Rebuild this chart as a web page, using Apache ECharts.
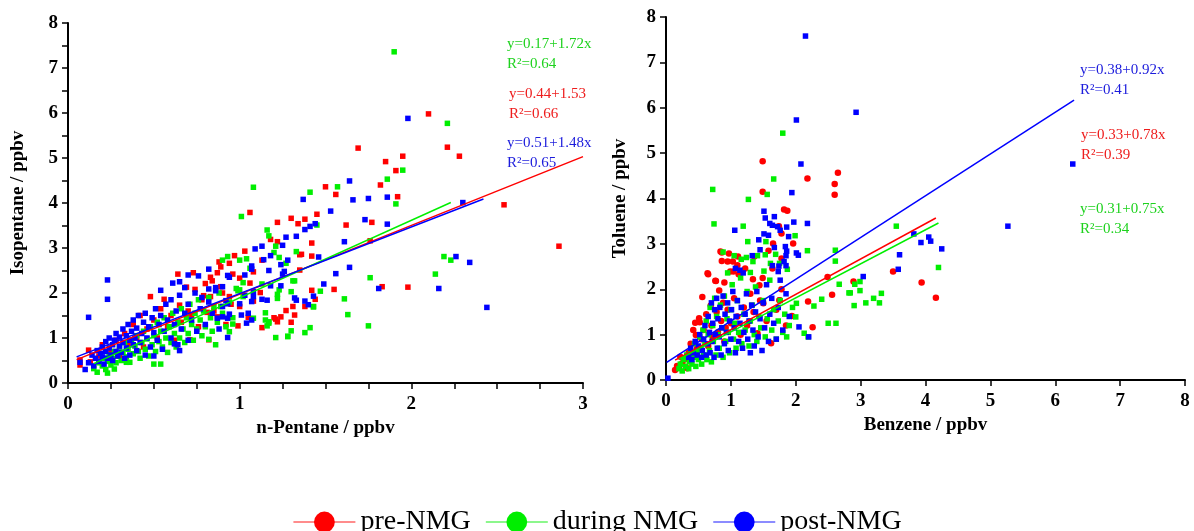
<!DOCTYPE html>
<html>
<head>
<meta charset="utf-8">
<script src="https://cdn.jsdelivr.net/npm/echarts@6/dist/echarts.min.js"></script>
<style>html,body{margin:0;padding:0;background:#fff}#c{width:1194px;height:531px}</style>
</head>
<body>
<div id="c"></div>
<script>
// ---------- DATA ----------
var seriesNames = ['pre-NMG', 'during NMG', 'post-NMG'];
var xTicksLeft = ['0', '1', '2', '3'];
var yTicksLeft = ['0', '1', '2', '3', '4', '5', '6', '7', '8'];
var leftXName = 'n-Pentane / ppbv';
var leftYName = 'Isopentane / ppbv';
var rightXName = 'Benzene / ppbv';
var rightYName = 'Toluene / ppbv';

// regression fit segments (endpoints)
var leftFitPre = [[0.05, 0.52], [3.0, 5.03]];
var leftFitDuring = [[0.15, 0.43], [2.23, 4.01]];
var leftFitPost = [[0.05, 0.58], [2.42, 4.09]];
var rightFitPre = [[0.14, 0.44], [4.16, 3.57]];
var rightFitDuring = [[0.2, 0.46], [4.2, 3.46]];
var rightFitPost = [[0.01, 0.39], [6.29, 6.17]];

// regression equation labels
var leftEqDuring = ['y=0.17+1.72x', 'R²=0.64'];
var leftEqPre = ['y=0.44+1.53', 'R²=0.66'];
var leftEqPost = ['y=0.51+1.48x', 'R²=0.65'];
var rightEqPost = ['y=0.38+0.92x', 'R²=0.41'];
var rightEqPre = ['y=0.33+0.78x', 'R²=0.39'];
var rightEqDuring = ['y=0.31+0.75x', 'R²=0.34'];

// left panel: n-Pentane vs Isopentane
var leftPre = [[0.07,0.4],[0.07,0.51],[0.12,0.73],[0.13,0.47],[0.18,0.6],[0.2,0.85],[0.25,0.7],[0.28,0.95],[0.3,0.6],[0.33,1.1],[0.35,0.85],[0.38,1.3],[0.4,1.0],[0.42,1.5],[0.44,0.8],[0.46,1.2],[0.48,1.92],[0.5,1.4],[0.52,1.0],[0.54,1.65],[0.56,1.86],[0.58,1.25],[0.6,1.5],[0.62,0.95],[0.64,2.42],[0.65,1.73],[0.66,1.35],[0.69,2.13],[0.7,1.6],[0.72,1.51],[0.71,0.96],[0.73,2.45],[0.74,2.08],[0.76,1.25],[0.78,1.85],[0.82,0.96],[0.83,1.92],[0.85,1.6],[0.87,1.47],[0.9,2.0],[0.92,1.3],[0.95,1.75],
[2.10,5.98],[2.21,5.24],[2.28,5.04],[1.69,5.22],[1.95,5.04],[1.85,4.92],[1.91,4.72],[1.82,4.40],[1.56,4.19],[1.50,4.36],[1.92,4.14],[2.54,3.96],[2.86,3.04],[1.98,2.13],[1.83,2.14],[1.55,2.08],[1.42,2.06],[1.44,1.86],[1.38,1.70],[1.76,3.16],[1.62,3.51],[1.77,3.57],[1.45,3.75],[1.38,3.64],[1.42,3.11],[1.42,2.82],[1.36,2.86],[1.06,3.79],[1.30,3.66],[1.22,3.57],[1.34,3.54],[1.22,3.14],[1.18,3.19],[1.03,2.93],[1.35,2.85],[0.97,2.83],[0.94,2.66],[0.88,2.69],[0.89,2.58],[1.13,2.73],[1.08,2.47],[1.35,2.51],[0.87,2.45],[0.83,2.35],[0.80,2.21],[0.84,2.27],[1.00,2.33],[0.96,2.42],[0.89,2.14],[0.79,1.94],[1.06,2.22],[1.12,2.01],[1.00,1.70],[1.08,1.82],[0.81,1.57],[1.27,1.61],[1.20,1.45],[1.24,1.47],[1.32,1.51],[1.30,1.35],[1.13,1.23],[1.22,1.36],[0.99,1.27],[1.05,1.46],[1.21,1.42],[1.31,1.70],[0.94,1.92]];
var leftDuring = [[0.15,0.32],[0.17,0.24],[0.18,0.45],[0.2,0.38],[0.21,0.55],[0.22,0.3],[0.23,0.48],[0.24,0.62],[0.25,0.4],[0.26,0.55],[0.27,0.7],[0.28,0.45],[0.29,0.6],[0.3,0.8],[0.31,0.5],[0.32,0.68],[0.33,0.9],[0.34,0.58],[0.35,0.75],[0.36,0.46],[0.37,0.95],[0.38,0.65],[0.39,0.82],[0.4,1.05],[0.41,0.7],[0.42,0.55],[0.43,0.9],[0.44,1.15],[0.45,0.75],[0.46,0.98],[0.47,0.6],[0.48,1.25],[0.49,0.85],[0.5,1.05],[0.51,0.7],[0.52,1.35],[0.53,0.92],[0.54,1.15],[0.55,0.8],[0.56,1.45],[0.57,1.0],[0.58,0.68],[0.59,1.25],[0.6,0.9],[0.61,1.55],[0.62,1.1],[0.63,0.8],[0.64,1.35],[0.65,1.0],[0.66,1.65],[0.67,1.2],[0.68,0.9],[0.69,1.45],[0.7,1.1],[0.71,1.75],[0.72,1.3],[0.73,0.95],[0.74,1.55],[0.75,1.2],[0.76,1.85],[0.77,1.4],[0.78,1.05],[0.79,1.6],[0.8,1.25],[0.82,1.9],[0.83,1.45],[0.84,1.15],[0.85,1.7],[0.87,1.35],[0.88,2.0],[0.9,1.55],[0.92,1.25],[0.94,1.8],[0.96,1.45],[0.98,2.1],
[0.23,0.22],[0.27,0.31],[0.34,0.46],[0.50,0.42],[0.54,0.42],[0.86,0.85],[0.82,0.97],[1.21,1.01],[1.28,1.04],
[1.90,7.36],[2.21,5.77],[1.95,4.73],[1.86,4.53],[1.57,4.36],[1.41,4.24],[1.08,4.35],[1.91,3.98],[1.45,3.51],[2.19,2.81],[2.23,2.73],[2.14,2.42],[1.76,2.34],[1.47,2.04],[1.61,1.87],[1.43,1.69],[1.63,1.52],[1.75,1.27],[1.41,1.23],[1.38,1.12],[1.01,3.70],[1.16,3.40],[1.17,3.27],[1.21,3.04],[1.20,2.90],[1.33,2.92],[1.23,2.79],[1.04,2.76],[1.00,2.73],[0.93,2.81],[0.90,2.73],[1.06,2.55],[1.32,2.27],[1.30,2.03],[1.22,1.88],[1.22,1.97],[1.43,1.70],[1.13,2.20],[0.99,2.05],[1.02,2.23],[1.15,1.56],[1.17,1.36],[1.16,1.27],[1.30,1.16],[1.28,1.03],[1.15,1.40],[1.27,2.66],[1.31,2.27],[1.23,2.07],[1.17,1.33],[1.00,2.07],[1.02,1.92],[0.96,1.31],[1.08,1.44],[0.89,1.70],[0.94,1.14]];
var leftPost = [[0.12,0.45],[0.14,0.62],[0.15,0.38],[0.16,0.55],[0.17,0.72],[0.18,0.48],[0.19,0.66],[0.2,0.58],[0.2,0.8],[0.21,0.42],[0.22,0.7],[0.22,0.92],[0.23,0.55],[0.24,0.78],[0.24,1.0],[0.25,0.62],[0.26,0.85],[0.26,0.5],[0.27,0.95],[0.28,0.7],[0.28,1.1],[0.29,0.6],[0.3,0.82],[0.3,1.02],[0.31,0.68],[0.32,1.2],[0.32,0.9],[0.33,0.55],[0.34,1.05],[0.34,0.78],[0.35,1.3],[0.36,0.95],[0.36,0.62],[0.37,1.15],[0.38,0.85],[0.38,1.4],[0.39,1.0],[0.4,0.72],[0.4,1.22],[0.41,1.5],[0.42,0.9],[0.43,1.1],[0.44,1.35],[0.45,0.62],[0.45,1.55],[0.46,1.0],[0.47,1.25],[0.48,0.8],[0.49,1.45],[0.5,1.12],[0.5,0.6],[0.51,1.65],[0.52,0.95],[0.53,1.3],[0.54,1.5],[0.55,0.75],[0.56,1.15],[0.57,1.75],[0.58,1.4],[0.6,1.0],[0.6,1.85],[0.62,1.3],[0.63,1.6],[0.64,0.85],[0.65,1.95],[0.66,1.2],[0.68,1.55],[0.7,1.75],[0.7,0.95],[0.72,1.4],[0.74,2.0],[0.75,1.15],[0.77,1.65],[0.78,1.9],[0.8,1.3],[0.82,1.8],[0.84,1.55],[0.86,2.05],[0.88,1.2],[0.9,1.7],
[0.23,2.29],[0.23,1.86],[0.12,1.46],[0.07,0.46],[0.10,0.30],[0.54,2.06],[0.61,2.22],[0.65,2.25],[0.70,2.40],[0.68,2.12],[0.76,2.38],[0.93,1.01],[0.65,0.72],[0.62,0.87],
[1.98,5.88],[1.64,4.49],[1.37,4.08],[1.66,4.07],[1.75,4.10],[1.86,4.13],[2.30,4.01],[1.53,3.82],[1.73,3.63],[1.86,3.53],[1.38,3.41],[1.41,3.48],[1.44,3.54],[1.61,3.14],[1.46,2.80],[1.64,2.57],[1.56,2.43],[2.26,2.81],[2.34,2.68],[2.16,2.10],[1.81,2.10],[1.49,2.20],[1.43,1.93],[1.38,1.82],[1.40,1.74],[2.44,1.68],[1.33,3.26],[1.27,3.24],[1.25,3.06],[1.13,3.04],[1.09,2.98],[1.18,2.83],[1.14,2.74],[1.28,2.73],[1.24,2.63],[1.07,2.60],[1.07,2.53],[1.17,2.50],[1.26,2.48],[1.25,2.42],[1.32,1.89],[1.33,1.84],[1.24,2.16],[1.18,2.16],[1.16,1.84],[1.13,1.86],[1.07,1.81],[1.08,2.03],[1.08,1.92],[1.03,1.95],[1.00,1.76],[1.05,1.55],[1.01,1.51],[1.04,1.33],[1.07,1.40],[0.94,1.53],[0.93,1.44],[0.90,1.47],[0.92,1.83],[0.93,1.76],[0.87,1.44],[1.03,2.40],[0.93,2.39],[0.94,2.35],[0.90,2.14],[0.86,2.12],[0.82,2.53],[0.82,2.09]];

// right panel: Benzene vs Toluene
var rightPre = [[0.14,0.22],[0.17,0.31],[0.2,0.28],[0.22,0.51],[0.25,0.37],[0.28,0.45],[0.33,0.26],[0.35,0.6],[0.38,0.8],[0.4,0.5],[0.42,1.1],[0.45,1.26],[0.46,0.99],[0.48,0.7],[0.51,1.36],[0.52,1.27],[0.55,0.9],[0.56,1.83],[0.58,1.1],[0.62,1.45],[0.64,2.35],[0.65,0.75],[0.69,1.64],[0.7,1.2],[0.72,0.95],[0.76,2.19],[0.78,1.5],[0.8,1.05],[0.82,1.97],[0.85,1.3],[0.88,1.7],[0.9,0.85],[0.92,1.15],[0.95,1.55],[1.0,1.25],[1.05,1.8],[1.1,1.4],[1.15,1.0],[1.2,1.6],[1.25,1.2],[1.3,1.9],[1.35,1.5],[1.41,1.03],[1.45,1.75],[1.5,1.69],[1.55,1.3],[1.62,0.81],[1.7,1.55],[1.75,1.76],[1.78,2.0],[1.85,1.2],
[1.49,4.82],[2.65,4.57],[2.18,4.44],[2.60,4.32],[1.49,4.15],[2.60,4.08],[1.82,3.76],[1.87,3.73],[1.74,3.39],[1.78,3.23],[1.96,3.01],[0.86,2.81],[0.97,2.79],[0.86,2.62],[1.03,2.61],[1.10,2.53],[1.22,2.46],[0.65,2.33],[1.04,2.39],[1.12,2.33],[0.77,2.18],[0.90,2.15],[2.49,2.27],[2.89,2.17],[1.64,2.46],[1.49,2.25],[1.78,2.68],[2.56,1.88],[2.19,1.73],[1.94,1.41],[2.26,1.16],[3.50,2.39],[0.84,2.83],[0.95,2.61],[1.11,2.72],[0.99,2.39],[1.34,2.22],[1.44,2.09],[1.36,2.72],[1.58,2.85],[1.65,3.01],[1.75,1.76],[3.94,2.15],[4.16,1.81]];
var rightDuring = [[0.2,0.25],[0.22,0.35],[0.25,0.2],[0.27,0.45],[0.3,0.3],[0.32,0.55],[0.35,0.25],[0.36,0.4],[0.38,0.65],[0.4,0.35],[0.42,0.5],[0.44,0.8],[0.46,0.3],[0.48,0.6],[0.5,0.45],[0.52,0.95],[0.54,0.7],[0.55,0.35],[0.57,1.1],[0.58,0.55],[0.6,0.8],[0.62,1.3],[0.63,0.45],[0.65,1.0],[0.67,0.65],[0.68,1.6],[0.7,0.4],[0.72,1.2],[0.73,0.85],[0.75,1.8],[0.77,0.55],[0.78,1.4],[0.8,1.0],[0.82,0.7],[0.84,1.65],[0.86,1.15],[0.88,0.5],[0.9,1.85],[0.92,0.85],[0.94,1.35],[0.96,1.05],[0.98,0.6],[1.0,1.55],[1.02,2.1],[1.04,0.9],[1.06,1.25],[1.08,0.7],[1.1,1.75],[1.12,1.05],[1.15,2.25],[1.17,0.8],[1.2,1.45],[1.22,1.1],[1.25,1.95],[1.28,0.75],[1.3,1.3],[1.33,1.65],[1.36,1.0],[1.38,2.05],[1.4,0.85],[1.43,1.4],[1.46,1.15],[1.5,1.75],[1.53,0.95],[1.56,1.35],[1.6,2.2],[1.63,1.1],[1.66,1.55],[1.7,0.9],[1.73,1.3],[1.76,1.75],[1.8,1.05],[1.83,1.45],[1.86,0.95],[1.9,1.2],[1.95,1.6],[2.0,1.39],
[1.80,5.44],[1.66,4.43],[0.72,4.20],[1.56,4.09],[1.27,3.98],[0.74,3.44],[1.19,3.39],[1.99,3.18],[1.26,3.05],[1.54,3.05],[2.18,2.85],[2.61,2.86],[2.61,2.62],[1.41,2.74],[1.53,2.76],[1.69,2.77],[1.24,2.70],[1.16,2.66],[0.88,2.82],[1.05,2.74],[1.34,2.61],[1.61,2.57],[1.75,2.57],[1.87,2.44],[0.95,2.36],[1.30,2.37],[1.51,2.40],[2.67,2.11],[2.91,2.11],[2.84,1.92],[2.99,2.17],[2.99,1.97],[2.90,1.64],[3.08,1.70],[3.20,1.80],[3.32,1.91],[3.29,1.70],[2.40,1.78],[2.28,1.63],[2.50,1.25],[2.62,1.25],[2.13,1.03],[2.19,0.95],[2.01,1.69],[3.55,3.39],[4.20,2.48],[2.82,1.92]];
var rightPost = [[0.03,0.04],[0.35,0.5],[0.38,0.7],[0.4,0.45],[0.42,0.6],[0.45,0.85],[0.48,0.55],[0.5,0.75],[0.52,1.0],[0.55,0.5],[0.56,0.65],[0.58,0.9],[0.6,1.2],[0.62,0.55],[0.64,0.8],[0.65,1.4],[0.67,1.05],[0.68,0.6],[0.7,1.7],[0.71,0.85],[0.72,1.25],[0.74,0.5],[0.75,1.55],[0.76,1.0],[0.78,1.8],[0.79,0.7],[0.8,1.35],[0.82,0.95],[0.83,1.6],[0.85,0.55],[0.86,1.15],[0.88,1.85],[0.9,0.8],[0.91,1.45],[0.93,1.05],[0.95,1.7],[0.96,0.65],[0.98,1.3],[1.0,0.9],[1.01,1.55],[1.03,1.95],[1.05,1.15],[1.07,0.6],[1.08,1.4],[1.1,1.75],[1.12,0.85],[1.14,1.25],[1.16,1.6],[1.18,0.7],[1.2,1.05],[1.22,1.45],[1.24,1.9],[1.26,0.9],[1.28,1.3],[1.3,0.6],[1.32,1.65],[1.34,1.1],[1.36,0.75],[1.38,1.5],[1.4,1.95],[1.42,0.95],[1.45,1.35],[1.48,0.65],[1.5,1.7],[1.52,1.15],[1.55,2.1],[1.58,0.85],[1.6,1.45],[1.63,1.8],[1.66,1.25],[1.7,0.9],[1.73,1.6],[1.76,2.2],[1.8,1.1],[1.85,1.9],[1.9,1.4],[2.05,1.17],[2.2,0.95],
[2.15,7.58],[2.93,5.90],[2.01,5.73],[2.08,4.76],[1.94,4.13],[6.27,4.76],[5.27,3.39],[3.82,3.22],[3.93,3.03],[4.05,3.15],[4.08,3.06],[4.25,2.89],[3.60,2.76],[3.58,2.44],[3.04,2.28],[1.51,3.72],[1.53,3.57],[1.67,3.60],[1.60,3.45],[1.64,3.41],[1.72,3.38],[1.86,3.37],[1.76,3.30],[1.97,3.48],[2.18,3.45],[1.06,3.30],[1.51,3.22],[1.58,3.19],[1.89,3.16],[1.43,3.09],[1.67,2.92],[1.84,2.94],[1.45,2.87],[1.86,2.84],[2.01,2.80],[2.04,2.75],[1.85,2.74],[1.33,2.74],[1.82,2.61],[1.85,2.52],[1.74,2.51],[1.64,2.52],[1.73,2.39],[1.19,2.36],[1.07,2.46],[1.14,2.42]];

// ---------- CHART ----------
var RED = '#ff0000', GREEN = '#00ee00', BLUE = '#0000ff';
var TRED = '#ee1c1c', TGREEN = '#1ed21e', TBLUE = '#1c1cdc';
var FONT = '"Liberation Serif", "Times New Roman", serif';

var chart = echarts.init(document.getElementById('c'), null, {renderer: 'canvas'});

function axisCommon(extra) {
  var a = {
    type: 'value', min: 0, interval: 1,
    splitLine: {show: false},
    axisLine: {show: true, onZero: false, lineStyle: {color: '#000', width: 2}},
    axisTick: {show: true, inside: false, length: 6, lineStyle: {color: '#000', width: 1.5}},
    axisLabel: {color: '#000', fontFamily: FONT, fontWeight: 'bold', fontSize: 19},
    nameTextStyle: {color: '#000', fontFamily: FONT, fontWeight: 'bold', fontSize: 19},
    nameLocation: 'middle'
  };
  for (var k in extra) a[k] = extra[k];
  return a;
}

function fitLine(name, data, color, xi) {
  return {
    name: name, type: 'line', xAxisIndex: xi, yAxisIndex: xi, data: data,
    symbol: 'circle', showSymbol: false, silent: true, z: 5,
    lineStyle: {color: color, width: 1.5}, itemStyle: {color: color}
  };
}
function scat(name, data, color, xi, sym, size) {
  return {
    name: name, type: 'scatter', xAxisIndex: xi, yAxisIndex: xi, data: data,
    symbol: sym, symbolSize: size, z: 2, silent: true,
    itemStyle: {color: color, opacity: 1}
  };
}

function eqText(lines, x, y, color) {
  return [
    {type: 'text', left: x, top: y - 9, style: {text: lines[0], fill: color, font: '15px ' + FONT}},
    {type: 'text', left: x, top: y + 11, style: {text: lines[1], fill: color, font: '15px ' + FONT}}
  ];
}

var graphics = [].concat(
  eqText(leftEqDuring, 507, 46, TGREEN),
  eqText(leftEqPre, 509, 96, TRED),
  eqText(leftEqPost, 507, 145, TBLUE),
  eqText(rightEqPost, 1080, 72, TBLUE),
  eqText(rightEqPre, 1081, 137, TRED),
  eqText(rightEqDuring, 1080, 211, TGREEN)
);

var option = {
  animation: false,
  backgroundColor: '#fff',
  grid: [
    {left: 68, right: 611, top: 23, bottom: 148},
    {left: 666, right: 9, top: 17, bottom: 151}
  ],
  xAxis: [
    axisCommon({gridIndex: 0, max: 3, name: leftXName, nameGap: 34,
      minorTick: {show: true, splitNumber: 4, length: 6, lineStyle: {color: '#000', width: 1.5}},
      axisLabel: {color: '#000', fontFamily: FONT, fontWeight: 'bold', fontSize: 19, margin: 12,
        formatter: function (v) { return xTicksLeft[v] !== undefined ? xTicksLeft[v] : String(v); }}}),
    axisCommon({gridIndex: 1, max: 8, name: rightXName, nameGap: 34,
      axisLabel: {color: '#000', fontFamily: FONT, fontWeight: 'bold', fontSize: 19, margin: 12}})
  ],
  yAxis: [
    axisCommon({gridIndex: 0, max: 8, name: leftYName, nameGap: 40,
      minorTick: {show: true, splitNumber: 2, length: 6, lineStyle: {color: '#000', width: 1.5}},
      axisLabel: {color: '#000', fontFamily: FONT, fontWeight: 'bold', fontSize: 19, margin: 10,
        formatter: function (v) { return yTicksLeft[v] !== undefined ? yTicksLeft[v] : String(v); }}}),
    axisCommon({gridIndex: 1, max: 8, name: rightYName, nameGap: 36,
      axisLabel: {color: '#000', fontFamily: FONT, fontWeight: 'bold', fontSize: 19, margin: 10}})
  ],
  legend: {
    data: seriesNames,
    top: 503, left: 'center',
    itemWidth: 62, itemHeight: 26, itemGap: 14,
    textStyle: {color: '#000', fontFamily: FONT, fontSize: 28},
    lineStyle: {width: 2, opacity: 0.45},
    selectedMode: false
  },
  graphic: graphics,
  series: [
    fitLine(seriesNames[0], leftFitPre, RED, 0),
    fitLine(seriesNames[1], leftFitDuring, GREEN, 0),
    fitLine(seriesNames[2], leftFitPost, BLUE, 0),
    fitLine(seriesNames[0], rightFitPre, RED, 1),
    fitLine(seriesNames[1], rightFitDuring, GREEN, 1),
    fitLine(seriesNames[2], rightFitPost, BLUE, 1),
    scat(seriesNames[0], leftPre, RED, 0, 'rect', 5.5),
    scat(seriesNames[1], leftDuring, GREEN, 0, 'rect', 5.5),
    scat(seriesNames[2], leftPost, BLUE, 0, 'rect', 5.5),
    scat(seriesNames[0], rightPre, RED, 1, 'circle', 6.5),
    scat(seriesNames[1], rightDuring, GREEN, 1, 'rect', 5.5),
    scat(seriesNames[2], rightPost, BLUE, 1, 'rect', 5.5)
  ]
};
chart.setOption(option);
</script>
</body>
</html>
